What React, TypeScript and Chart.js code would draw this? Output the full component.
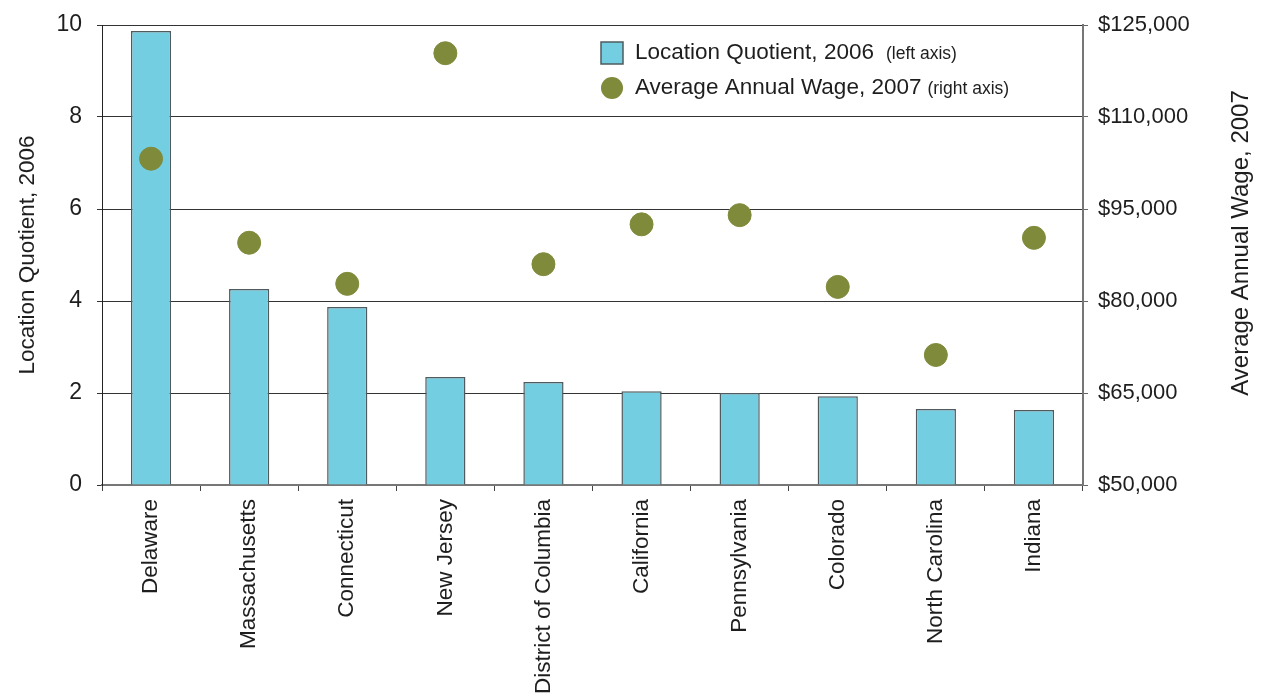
import React, { useEffect, useRef } from 'react';
import { Chart, registerables } from 'chart.js';

Chart.register(...registerables);

const categories = [
  'Delaware',
  'Massachusetts',
  'Connecticut',
  'New Jersey',
  'District of Columbia',
  'California',
  'Pennsylvania',
  'Colorado',
  'North Carolina',
  'Indiana',
];
const locationQuotient = [9.87, 4.26, 3.87, 2.35, 2.24, 2.04, 2.0, 1.93, 1.65, 1.63];
const averageWage = [103200, 89500, 82800, 120400, 86000, 92500, 94000, 82300, 71200, 90300];
const seriesLabels = ['Location Quotient, 2006', 'Average Annual Wage, 2007'];
const seriesNotes = ['(left axis)', '(right axis)'];
const leftAxisTitle = 'Location Quotient, 2006';
const rightAxisTitle = 'Average Annual Wage, 2007';

const FONT = '"Liberation Sans", Arial, Helvetica, sans-serif';
const BAR_FILL = '#74cee2';
const BAR_BORDER = '#4f5b5e';
const DOT = '#7f8a3a';
const TEXT = '#1e1e1e';

const overlayPlugin = {
  id: 'overlayText',
  afterDraw(chart: any) {
    const ctx = chart.ctx;
    const area = chart.chartArea;
    ctx.save();
    ctx.textBaseline = 'middle';
    ctx.textAlign = 'left';
    // legend: bar swatch
    ctx.fillStyle = BAR_FILL;
    ctx.strokeStyle = BAR_BORDER;
    ctx.lineWidth = 1.5;
    ctx.fillRect(601, 42, 22, 22);
    ctx.strokeRect(601, 42, 22, 22);
    // legend: dot swatch
    ctx.fillStyle = DOT;
    ctx.beginPath();
    ctx.arc(612, 88, 11, 0, Math.PI * 2);
    ctx.fill();
    const rows = [53, 88];
    rows.forEach((y, i) => {
      ctx.fillStyle = TEXT;
      ctx.font = `22.5px ${FONT}`;
      ctx.fillText(seriesLabels[i], 635, y);
      const w = ctx.measureText(seriesLabels[i]).width;
      ctx.font = `17.5px ${FONT}`;
      ctx.fillText(seriesNotes[i], 635 + w + (i === 0 ? 12 : 6), y + 1);
    });
    // right axis title, reading bottom to top
    ctx.translate(1241, (area.top + area.bottom) / 2 - 12);
    ctx.rotate(-Math.PI / 2);
    ctx.textAlign = 'center';
    ctx.fillStyle = TEXT;
    ctx.font = `24px ${FONT}`;
    ctx.fillText(rightAxisTitle, 0, 0);
    ctx.restore();
  },
};

export default function App() {
  const ref = useRef<HTMLCanvasElement | null>(null);

  useEffect(() => {
    if (!ref.current) return;
    const chart = new Chart(ref.current, {
      type: 'bar',
      data: {
        labels: categories,
        datasets: [
          {
            type: 'scatter' as any,
            label: seriesLabels[1],
            data: averageWage as any,
            yAxisID: 'y1',
            backgroundColor: DOT,
            borderColor: DOT,
            pointRadius: 11.5,
            pointHoverRadius: 11.5,
            showLine: false,
            order: 0,
          } as any,
          {
            type: 'bar',
            label: seriesLabels[0],
            data: locationQuotient,
            yAxisID: 'y',
            backgroundColor: BAR_FILL,
            borderColor: BAR_BORDER,
            borderWidth: 1.5,
            categoryPercentage: 1,
            barPercentage: 0.41,
            order: 1,
          },
        ],
      },
      options: {
        responsive: false,
        animation: false,
        devicePixelRatio: 1,
        layout: { padding: { top: 25, left: 0, right: 0, bottom: 0 } },
        plugins: {
          legend: { display: false },
          tooltip: { enabled: false },
        },
        scales: {
          x: {
            type: 'category',
            offset: true,
            grid: {
              display: true,
              offset: true,
              drawOnChartArea: false,
              drawTicks: true,
              tickLength: 6,
              color: '#444',
              lineWidth: 1,
            },
            border: { display: true, color: '#777', width: 2 },
            ticks: {
              color: TEXT,
              font: { family: FONT, size: 22.5 },
              maxRotation: 90,
              minRotation: 90,
              padding: 8,
              autoSkip: false,
            },
            afterFit(scale: any) {
              scale.height = 209;
              scale.paddingLeft = 0;
              scale.paddingRight = 0;
            },
          },
          y: {
            position: 'left',
            min: 0,
            max: 10,
            ticks: {
              stepSize: 2,
              color: TEXT,
              font: { family: FONT, size: 23 },
              padding: 15,
            },
            grid: {
              color: '#333',
              lineWidth: 1,
              tickLength: 5,
            },
            border: { display: true, color: '#222', width: 1 },
            title: {
              display: true,
              text: leftAxisTitle,
              color: TEXT,
              font: { family: FONT, size: 22.5 },
              padding: { top: 14, bottom: 0 },
            },
            afterFit(scale: any) {
              scale.width = 102;
              scale.paddingTop = 0;
              scale.paddingBottom = 0;
            },
          },
          y1: {
            position: 'right',
            min: 50000,
            max: 125000,
            ticks: {
              stepSize: 15000,
              color: TEXT,
              font: { family: FONT, size: 22 },
              padding: 10,
              callback: (v: any) => '$' + Number(v).toLocaleString('en-US'),
            },
            grid: {
              display: true,
              drawOnChartArea: false,
              drawTicks: true,
              tickLength: 5,
              color: '#666',
            },
            border: { display: true, color: '#777', width: 2 },
            afterFit(scale: any) {
              scale.width = 181;
              scale.paddingTop = 0;
              scale.paddingBottom = 0;
            },
          },
        },
      },
      plugins: [overlayPlugin],
    });
    return () => chart.destroy();
  }, []);

  return (
    <div style={{ position: 'fixed', left: 0, top: 0, width: 1264, height: 694, background: '#fff' }}>
      <canvas ref={ref} width={1264} height={694} />
    </div>
  );
}
